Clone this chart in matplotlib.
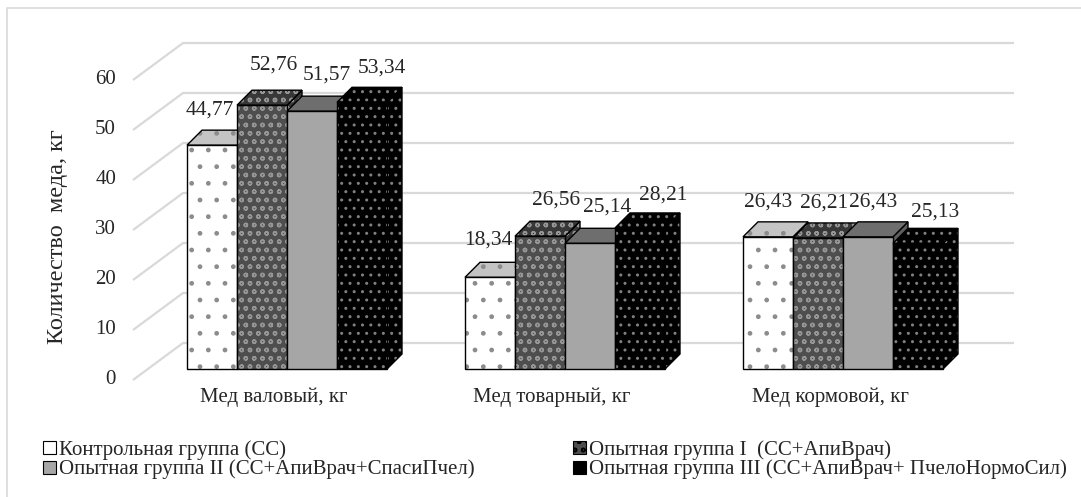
import matplotlib
matplotlib.use('Agg')
import numpy as np
import matplotlib.pyplot as plt
from matplotlib.patches import Polygon, Rectangle, Patch

plt.rcParams['font.family'] = ['Liberation Serif', 'DejaVu Serif']
plt.rcParams['hatch.linewidth'] = 1.0

categories = ['Мед валовый, кг', 'Мед товарный, кг', 'Мед кормовой, кг']
series_names = ['Контрольная группа (СС)',
                'Опытная группа I  (СС+АпиВрач)',
                'Опытная группа II (СС+АпиВрач+СпасиПчел)',
                'Опытная группа III (СС+АпиВрач+ ПчелоНормоСил)']
control = [44.77, 18.34, 26.43]
group_1 = [52.76, 26.56, 26.21]
group_2 = [51.57, 25.14, 26.43]
group_3 = [53.34, 28.21, 25.13]
y_ticks = [0, 10, 20, 30, 40, 50, 60]

series = [control, group_1, group_2, group_3]

# label nudges in pixels (dx from bar centre, dy above the back top edge)
label_dx = [[-2, 12, 15, 20], [-2, 16, 17, 23], [0, 6, 5, 17]]
label_dy = [[20, 25, 21, 19], [22, 21, 21, 18], [20, 20, 20, 16]]

# face, hatch, hatch colour, top face, side face
styles = [
    ('white',   '.',  '#8c8c8c', '#c4c4c4', '#c4c4c4'),
    ('#4e4e4e', 'oo', '#969696', '#383838', '#383838'),
    ('#a6a6a6', '',   '#a6a6a6', '#6e6e6e', '#5e5e5e'),
    ('black',   '..', '#808080', 'black',   'black'),
]

W, H = 1081, 497
fig = plt.figure(figsize=(W / 100, H / 100), dpi=100)
ax = fig.add_axes([0, 0, 1, 1])
px = 1 / 278.0   # x units per pixel
py = 1 / 5.0     # value units per pixel
ax.set_xlim(-287 * px, (W - 287) * px)
ax.set_ylim(-(H - 369) * py, 369 * py)
ax.axis('off')

bw = 50 * px                      # bar width
ddx, ddy = 15 * px, 15 * py       # bar depth
bdx, bdy = 35 * px, 26 * py       # back wall
fdx, fdy = -15 * px, -11 * py     # front edge of side wall
left_x, right_x = -139 * px, 692 * px

txt = '#262626'

# walls: grid lines on side wall and back wall
for t in y_ticks:
    ax.plot([left_x + fdx, left_x + bdx, right_x + bdx],
            [t + fdy, t + bdy, t + bdy],
            color='#d9d9d9', lw=1.6, zorder=1, solid_capstyle='butt')
    ax.text(left_x + fdx - 17 * px, t + fdy, str(t), ha='right', va='center',
            fontsize=15, color=txt)

g = np.arange(len(categories))
for k, (vals, st) in enumerate(zip(series, styles)):
    face, hatch, hcol, top, side = st
    xc = g + (k - 1.5) * bw
    z = 3 + k
    for x, v in zip(xc, vals):
        xl, xr = x - bw / 2, x + bw / 2
        side_pts = [(xr, 0), (xr + ddx, ddy), (xr + ddx, v + ddy), (xr, v)]
        top_pts = [(xl, v), (xr, v), (xr + ddx, v + ddy), (xl + ddx, v + ddy)]
        for pts, col in ((side_pts, side), (top_pts, top)):
            ax.add_patch(Polygon(pts, closed=True, facecolor=col,
                                 edgecolor=hcol if hatch else col,
                                 hatch=hatch, lw=0, zorder=z))
            ax.add_patch(Polygon(pts, closed=True, fill=False,
                                 edgecolor='black', lw=1.0, zorder=z))
    ax.bar(xc, vals, bw, color=face, edgecolor=hcol, hatch=hatch,
           linewidth=0, zorder=z)
    ax.bar(xc, vals, bw, fill=False, edgecolor='black', linewidth=1.0, zorder=z)
    for i, (x, v) in enumerate(zip(xc, vals)):
        ax.text(x + label_dx[i][k] * px, v + ddy + label_dy[i][k] * py,
                f'{v:.2f}'.replace('.', ','), ha='center', va='center',
                fontsize=15.5, color=txt, zorder=10)

for i, c in enumerate(categories):
    ax.text(i - 13 * px, -28 * py, c, ha='center', va='center', fontsize=15,
            color=txt)

ax.text(-230 * px, 132 * py, 'Количество  меда, кг', rotation=90, ha='center',
        va='center', fontsize=17.5, color=txt)

handles = []
for st in styles:
    face, hatch, hcol, top, side = st
    handles.append(Patch(facecolor=face, edgecolor='black', hatch=hatch, lw=0.8))

leg_kw = dict(loc='upper left', frameon=False, fontsize=15, handlelength=0.6,
              handleheight=0.6, handletextpad=0.15, labelspacing=0.0,
              borderpad=0, borderaxespad=0, labelcolor=txt)
leg1 = ax.legend([handles[0], handles[2]], [series_names[0], series_names[2]],
                 bbox_to_anchor=(43 / W, 1 - 440 / H), **leg_kw)
ax.add_artist(leg1)
ax.legend([handles[1], handles[3]], [series_names[1], series_names[3]],
          bbox_to_anchor=(573 / W, 1 - 440 / H), **leg_kw)

# chart area border
fig.add_artist(Rectangle((7 / W, -0.1), 1.2, 1.1 - 8 / H, fill=False,
                         edgecolor='#d9d9d9', lw=1.2, transform=fig.transFigure))

fig.savefig('out.png', dpi=100)
